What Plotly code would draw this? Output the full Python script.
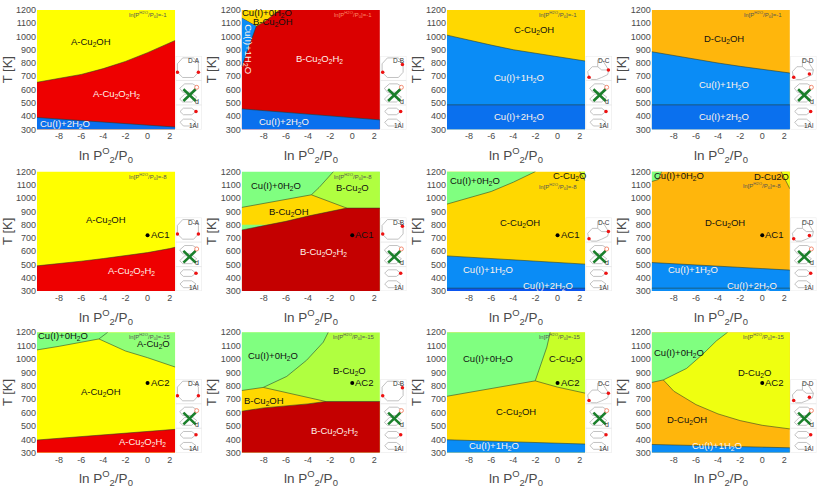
import plotly.graph_objects as go

# ---- axis scale ----
X_MIN, X_MAX = -10, 2.5
T_MIN, T_MAX = 300, 1200
X_TICKS = [-8, -6, -4, -2, 0, 2]
X_TICK_TEXT = ["-8", "-6", "-4", "-2", "0", "2"]
T_TICKS = [300, 400, 500, 600, 700, 800, 900, 1000, 1100, 1200]
X_ENDS = [-10, 2.5]

# ---- colours of the phases ----
YELLOW, RED_A, BLUE2, BLUE1 = "#ffff00", "#ee0000", "#0a70ee", "#0a8cf6"
RED_B1, RED_B, GOLD, ORANGE = "#da0000", "#c40000", "#ffd800", "#ffb60c"
GREEN0, O_A, O_B, O_C, O_D = "#80ff80", "#90ff78", "#b0ff40", "#c8ff28", "#efff10"
BLUE_DEEP = "#0a55f0"

# ---- phase boundaries: ln P(O2) and T[K] ----
a1_hi_x = [-10, -8, -6, -4, -2, 0, 2, 2.5]
a1_hi_t = [655, 685, 714, 758, 812, 878, 950, 970]
a1_lo_t = [390, 318]

b1_low_t = [455, 372]
b1_red_x = [-10, -8.68, -7.9, -6.57]
b1_red_t = [1139, 1077, 1113, 1200]
b1_wedge_x = [-10, -8.68, -10]
b1_wedge_t = [770, 1077, 1139]

c1_hi_x = [-10, -8, -6, -4, -2, 0, 2, 2.5]
c1_hi_t = [1010, 970, 935, 900, 875, 845, 820, 815]
d1_hi_x = [-10, -8, -6, -4, -2, 0, 2, 2.5]
d1_hi_t = [885, 855, 830, 800, 775, 752, 730, 725]
h2o_step_t = [485, 485]

a2_lo_x = [-10, -8, -6, -4, -2, 0, 2, 2.5]
a2_lo_t = [490, 505, 525, 545, 565, 590, 620, 630]

b2_red_x = [-10, -8, -6, -4, -2, -0.5, 2.5]
b2_red_t = [760, 790, 825, 865, 900, 925, 925]
b2_gold_x = [-10, -3.7, -0.5]
b2_gold_t = [930, 1025, 925]
b2_split_x = [-3.7, -3, -1.7]
b2_split_t = [1025, 1080, 1200]

c2_green_x = [-10, -8, -6, -4, -2]
c2_green_t = [955, 1000, 1050, 1120, 1200]
c2_oxide_x = [2, 2.5]
c2_oxide_t = [1200, 1130]
c2_blue_t = [565, 503]
c2_deep_t = [322, 322]

d2_green_x = [-10, -9.4, -9.1]
d2_green_t = [1125, 1140, 1200]
d2_oxide_x = [1.7, 2.5]
d2_oxide_t = [1200, 1070]
d2_blue_t = [515, 458]

a3_green_x = [-10, -8, -4.4]
a3_green_t = [1068, 1095, 1150]
a3_split_x = [-4.4, -3.6]
a3_split_t = [1150, 1200]
a3_oxide_x = [-4.4, -2, 0, 2.5]
a3_oxide_t = [1150, 1060, 1010, 940]
a3_red_t = [395, 475]

b3_red_x = [-10, -8, -4, -2.4, 2.5]
b3_red_t = [610, 635, 665, 683, 683]
b3_gold_x = [-10, -8.05, -2.4]
b3_gold_t = [765, 788, 683]
b3_green_x = [-8.05, -5.93, -4.13, -2.62, -2.17]
b3_green_t = [788, 870, 991, 1126, 1200]

c3_green_x = [-10, -2.02]
c3_green_t = [722, 837]
c3_split_x = [-2.02, -1.57, -0.97, -0.66]
c3_split_t = [837, 943, 1089, 1200]
c3_oxide_x = [-2.02, 0, 2.5]
c3_oxide_t = [837, 790, 745]
c3_blue_t = [397, 365]

d3_green_x = [-10, -8.95, -6.84, -5.33, -4.13, -3.13]
d3_green_t = [825, 844, 930, 1040, 1137, 1200]
d3_oxide_x = [-8.95, -8, -6, -4, -2, 0, 2.5]
d3_oxide_t = [844, 760, 660, 590, 540, 505, 478]
d3_blue_t = [362, 337]

# ---- reference points AC1 / AC2 ----
ac_lnp = [0]
ac1_t = [720]
ac2_t = [820]

# ---- labels ----
A_OH, A_H2, A_O = "A-Cu<sub>2</sub>OH", "A-Cu<sub>2</sub>O<sub>2</sub>H<sub>2</sub>", "A-Cu<sub>2</sub>O"
B_OH, B_H2, B_O = "B-Cu<sub>2</sub>OH", "B-Cu<sub>2</sub>O<sub>2</sub>H<sub>2</sub>", "B-Cu<sub>2</sub>O"
C_OH, C_O = "C-Cu<sub>2</sub>OH", "C-Cu<sub>2</sub>O"
D_OH, D_O = "D-Cu<sub>2</sub>OH", "D-Cu<sub>2</sub>O"
CU0, CU1, CU2 = "Cu(I)+0H<sub>2</sub>O", "Cu(I)+1H<sub>2</sub>O", "Cu(I)+2H<sub>2</sub>O"

a1_names = [A_OH, A_H2, CU2]
a1_nx, a1_nt = [-5.14, -2.84, -7.5], [955, 567, 342]
b1_names = [CU0, B_OH, B_H2, CU2]
b1_nx, b1_nt = [-7.74, -7.14, -3, -6.2], [1175, 1109, 827, 354]
c1_names = [C_OH, CU1, CU2]
c1_nx, c1_nt = [-2.1, -3.5, -3.5], [1048, 690, 390]
d1_names = [D_OH, CU1, CU2]
d1_nx, d1_nt = [-3.46, -3.5, -3.5], [979, 633, 390]
a2_names = [A_OH, A_H2]
a2_nx, a2_nt = [-3.78, -1.45], [832, 452]
b2_names = [CU0, B_O, B_OH, B_H2]
b2_nx, b2_nt = [-6.9, 0.03, -5.75, -2.6], [1094, 1077, 898, 592]
c2_names = [CU0, C_O, C_OH, CU1, CU2]
c2_nx, c2_nt = [-7.5, 1.09, -3.4, -6.25, -0.9], [1126, 1168, 815, 459, 342]
d2_names = [CU0, "D-Cu2O", D_OH, CU1, CU2]
d2_nx, d2_nt = [-7.5, 0.84, -3.37, -6.25, -0.9], [1163, 1163, 815, 459, 342]
a3_names = [CU0, A_O, A_OH, A_H2]
a3_nx, a3_nt = [-7.67, 0.54, -4.23, -0.45], [1170, 1114, 751, 378]
b3_names = [CU0, B_O, B_OH, B_H2]
b3_nx, b3_nt = [-7.14, -0.27, -7.95, -1.63], [1021, 910, 685, 459]
c3_names = [CU0, C_O, C_OH, CU1]
c3_nx, c3_nt = [-6.25, 0.75, -3.75, -5.74], [999, 999, 606, 347]
d3_names = [CU0, D_O, D_OH, CU1]
d3_nx, d3_nt = [-7.5, -0.72, -6.84, -4.13], [1048, 893, 545, 349]

B1_VERTICAL = CU1
PRESSURES = ["-1", "-8", "-15"]
SITES = ["A", "B", "C", "D"]

# ---- inset sketches (local units of each little frame) ----
FRAME_X = [0, 26, 26, 0, 0]
FRAME_Y = [0, 0, 75, 75, 0]
OCT_X = [7, 18, 22.7, 22.7, 18, 7, 1.7, 1.7, 7]
OCT_Y = [2, 2, 8, 16.7, 22, 22, 16.7, 8, 2]
RING_X = [3, 2, 6.5, 12, 12, 16, 23, 22, 16, 11, 6, 3, None, 12, 16, 23]
RING_Y = [21.7, 16, 11, 11, 4, 3, 14.3, 19, 22, 24, 24, 21.7, None, 11, 14.3, 14.3]
DOT_SITES_X = {"A": [1.7, 22.7], "B": [2.3, 22], "C": [3.3, 22.7], "D": [3.3, 19]}
DOT_SITES_Y = {"A": [16.7, 16.7], "B": [16.7, 8.7], "C": [21.7, 14.3], "D": [21.7, 18.3]}
MID_X = [4, 9, 17, 21, 16, 7, 4, None, 4, 9, 17, 21, 16, 7, 4]
MID_Y = [33, 28.5, 28.5, 31, 37, 37, 33, None, 44, 39, 39, 42, 47, 47, 44]
CROSS_X = [7.7, 20, None, 20, 7.7]
CROSS_Y = [34, 46, None, 34, 46]
LOW_X = [4.3, 7.7, 16, 20.3, 16, 7.7, 4.3, None, 4.3, 7.7, 16, 20.3, 16, 7.7, 4.3]
LOW_Y = [56.7, 53.3, 53.3, 56.7, 60, 60, 56.7, None, 67.7, 64.5, 64.5, 67.7, 71.5, 71.5, 67.7]

# ---- page geometry in pixels ----
W, H = 817, 494
COL_LEFT = [37, 241.7, 447, 651.7]
PLOT_W = 138.2
ROW_TOP = [5, 170, 334]
ROW_BOTTOM = [127, 292, 457]
INSET_W, INSET_H = 26, 75
X_TITLE_DROP = 26

fig = go.Figure()
layout = {"annotations": []}
SANS = "Arial, 'Liberation Sans', sans-serif"
TICK_COL = "#4a4a4a"
X_TITLE = "ln P<sup>O</sup><sub>2</sub>/P<sub>0</sub>"


def axis_name(i):
    return ("", "") if i == 1 else (str(i), str(i))


def fill(ax, xs, ts, color):
    fig.add_trace(go.Scatter(x=xs, y=ts, xaxis="x" + ax, yaxis="y" + ax, mode="lines",
                             fill="toself", fillcolor=color, line=dict(width=0),
                             hoverinfo="skip", showlegend=False))


def edge(ax, xs, ts):
    fig.add_trace(go.Scatter(x=xs, y=ts, xaxis="x" + ax, yaxis="y" + ax, mode="lines",
                             line=dict(width=0.8, color="rgba(40,60,40,0.7)"),
                             hoverinfo="skip", showlegend=False))


def base(ax, color):
    fill(ax, [X_MIN, X_MAX, X_MAX, X_MIN], [T_MIN, T_MIN, T_MAX, T_MAX], color)


def below(ax, xs, ts, color):
    fill(ax, xs + [xs[-1], xs[0]], ts + [T_MIN, T_MIN], color)
    edge(ax, xs, ts)


def above(ax, xs, ts, color):
    fill(ax, xs + [xs[-1], xs[0]], ts + [T_MAX, T_MAX], color)
    edge(ax, xs, ts)


def note(ax, text, x, y, size=9.5, color="black", angle=0):
    layout["annotations"].append(dict(
        text=text, x=x, y=y, xref="x" + ax, yref="y" + ax, showarrow=False,
        textangle=angle, font=dict(family=SANS, size=size, color=color),
        xanchor="center", yanchor="middle"))


def label_colour(name):
    if name in (CU1, CU2) or "O<sub>2</sub>H" in name:
        return "#fff2ea"
    return "#111111"


def names(ax, texts, xs, ts):
    for t, x, y in zip(texts, xs, ts):
        note(ax, t, x, y, color=label_colour(t))


def mark(ax, t_list, text):
    fig.add_trace(go.Scatter(x=ac_lnp, y=t_list, xaxis="x" + ax, yaxis="y" + ax, mode="markers",
                             marker=dict(size=4, color="black"), hoverinfo="skip", showlegend=False))
    note(ax, text, 1.09, t_list[0] + 5, color="#111111")


def pressure(ax, value, x=0.03, t=1165, color="#555555"):
    note(ax, "ln[P<sup>H2O</sup>/P<sub>0</sub>]=" + value, x, t, size=6, color=color)


def inset(ax, site):
    ix, iy = "x" + ax, "y" + ax

    def line(xs, ys, width=0.7, color="#a8a8a8"):
        fig.add_trace(go.Scatter(x=xs, y=ys, xaxis=ix, yaxis=iy, mode="lines",
                                 line=dict(width=width, color=color), hoverinfo="skip", showlegend=False))

    # white backing and frame
    fig.add_trace(go.Scatter(x=FRAME_X, y=FRAME_Y, xaxis=ix, yaxis=iy, mode="lines", fill="toself",
                             fillcolor="white", line=dict(width=0.6, color="#d8d8d8"),
                             hoverinfo="skip", showlegend=False))
    line([0, 26], [25, 25], 0.6, "#d8d8d8")
    line([0, 26], [50, 50], 0.6, "#d8d8d8")
    if site in ("A", "B"):
        line(OCT_X, OCT_Y)
    else:
        line(RING_X, RING_Y)
    fig.add_trace(go.Scatter(x=DOT_SITES_X[site], y=DOT_SITES_Y[site], xaxis=ix, yaxis=iy, mode="markers",
                             marker=dict(size=3.5, color="#ee1111"), hoverinfo="skip", showlegend=False))
    line(MID_X, MID_Y)
    line(CROSS_X, CROSS_Y, 2.6, "#1a7f2a")
    fig.add_trace(go.Scatter(x=[21], y=[32], xaxis=ix, yaxis=iy, mode="markers",
                             marker=dict(size=4, color="white", line=dict(width=0.7, color="#f0603c")),
                             hoverinfo="skip", showlegend=False))
    line(LOW_X, LOW_Y)
    fig.add_trace(go.Scatter(x=[20.3], y=[56.7], xaxis=ix, yaxis=iy, mode="markers",
                             marker=dict(size=3.5, color="#ee1111"), hoverinfo="skip", showlegend=False))
    note(ax, "D-" + site, 18, 4.5, size=6.5, color="#333333")
    note(ax, "d", 21.7, 46, size=7, color="#333333")
    note(ax, "1Al", 18.7, 71, size=6.5, color="#333333")


# ---- axes ----
for r in range(3):
    for c in range(4):
        i = r * 4 + c + 1
        sx, sy = axis_name(i)
        l, t, b = COL_LEFT[c], ROW_TOP[r], ROW_BOTTOM[r]
        layout["xaxis" + sx] = dict(
            domain=[l / W, (l + PLOT_W) / W], range=[X_MIN, X_MAX], anchor="y" + sy,
            tickvals=X_TICKS, ticktext=X_TICK_TEXT, showgrid=False, zeroline=False, showline=False, ticks="",
            tickfont=dict(family=SANS, size=9, color=TICK_COL))
        layout["yaxis" + sy] = dict(
            domain=[1 - b / H, 1 - t / H], range=[T_MIN, T_MAX], anchor="x" + sx,
            tickvals=T_TICKS, showgrid=False, zeroline=False, showline=False, ticks="",
            tickfont=dict(family=SANS, size=9, color=TICK_COL),
            title=dict(text="T [K]", font=dict(family=SANS, size=13, color=TICK_COL), standoff=1))
        layout["annotations"].append(dict(
            text=X_TITLE, x=(l + PLOT_W / 2) / W, y=1 - (b + X_TITLE_DROP) / H, xref="paper", yref="paper",
            showarrow=False, xanchor="center", yanchor="middle",
            font=dict(family=SANS, size=13.5, color=TICK_COL)))
        k = i + 12
        l2 = l + PLOT_W + 0.5
        for name, dom, rng, anc in (("xaxis", [l2 / W, (l2 + INSET_W) / W], [0, 26], "y"),
                                    ("yaxis", [1 - b / H, 1 - (b - INSET_H) / H], [75, 0], "x")):
            layout[name + str(k)] = dict(domain=dom, range=rng, anchor=anc + str(k), visible=False, fixedrange=True)

# ---- row 1 ----
base("", YELLOW)
below("", a1_hi_x, a1_hi_t, RED_A)
below("", X_ENDS, a1_lo_t, BLUE2)
names("", a1_names, a1_nx, a1_nt)
pressure("", PRESSURES[0])

base("2", RED_B1)
fill("2", b1_red_x + [-10], b1_red_t + [1200], GOLD)
edge("2", b1_red_x, b1_red_t)
fill("2", b1_wedge_x, b1_wedge_t, BLUE1)
edge("2", b1_wedge_x[:2], b1_wedge_t[:2])
below("2", X_ENDS, b1_low_t, BLUE2)
names("2", b1_names, b1_nx, b1_nt)
note("2", B1_VERTICAL, -9.45, 906, color="#fff2ea", angle=90)
pressure("2", PRESSURES[0], color="#ff8a66")

base("3", GOLD)
below("3", c1_hi_x, c1_hi_t, BLUE1)
below("3", X_ENDS, h2o_step_t, BLUE2)
names("3", c1_names, c1_nx, c1_nt)
pressure("3", PRESSURES[0])

base("4", ORANGE)
below("4", d1_hi_x, d1_hi_t, BLUE1)
below("4", X_ENDS, h2o_step_t, BLUE2)
names("4", d1_names, d1_nx, d1_nt)
pressure("4", PRESSURES[0])

# ---- row 2 ----
base("5", YELLOW)
below("5", a2_lo_x, a2_lo_t, RED_A)
names("5", a2_names, a2_nx, a2_nt)
mark("5", ac1_t, "AC1")
pressure("5", PRESSURES[1])

base("6", GREEN0)
fill("6", b2_split_x + [2.5, 2.5, -0.5], b2_split_t + [1200, 925, 925], O_B)
edge("6", b2_split_x, b2_split_t)
fill("6", b2_gold_x + [-0.5, -10], b2_gold_t + [800, 800], GOLD)
edge("6", b2_gold_x, b2_gold_t)
below("6", b2_red_x, b2_red_t, RED_B)
names("6", b2_names, b2_nx, b2_nt)
mark("6", ac1_t, "AC1")
pressure("6", PRESSURES[1])

base("7", GOLD)
above("7", c2_green_x, c2_green_t, GREEN0)
above("7", c2_oxide_x, c2_oxide_t, O_C)
below("7", X_ENDS, c2_blue_t, BLUE1)
below("7", X_ENDS, c2_deep_t, BLUE_DEEP)
names("7", c2_names, c2_nx, c2_nt)
mark("7", ac1_t, "AC1")
pressure("7", PRESSURES[1], t=1090)

base("8", ORANGE)
above("8", d2_green_x, d2_green_t, GREEN0)
above("8", d2_oxide_x, d2_oxide_t, O_D)
below("8", X_ENDS, d2_blue_t, BLUE1)
below("8", X_ENDS, c2_deep_t, BLUE1)
names("8", d2_names, d2_nx, d2_nt)
mark("8", ac1_t, "AC1")
pressure("8", PRESSURES[1], x=0.0, t=1094)

# ---- row 3 ----
base("9", YELLOW)
fill("9", a3_oxide_x + [2.5, -4.4], a3_oxide_t + [1200, 1200], O_A)
edge("9", a3_oxide_x, a3_oxide_t)
fill("9", a3_green_x + [-3.6, -10], a3_green_t + [1200, 1200], GREEN0)
edge("9", a3_green_x, a3_green_t)
edge("9", a3_split_x, a3_split_t)
below("9", X_ENDS, a3_red_t, RED_A)
names("9", a3_names, a3_nx, a3_nt)
mark("9", ac2_t, "AC2")
pressure("9", PRESSURES[2], x=0.15, t=1168)

base("10", O_B)
fill("10", b3_green_x + [-10, -10], b3_green_t + [1200, 765], GREEN0)
edge("10", b3_green_x, b3_green_t)
fill("10", b3_gold_x + [-10], b3_gold_t + [600], GOLD)
edge("10", b3_gold_x, b3_gold_t)
below("10", b3_red_x, b3_red_t, RED_B)
names("10", b3_names, b3_nx, b3_nt)
mark("10", ac2_t, "AC2")
pressure("10", PRESSURES[2], x=0.15, t=1168)

base("11", GOLD)
above("11", c3_oxide_x, c3_oxide_t, O_C)
fill("11", c3_green_x + c3_split_x[1:] + [-10], c3_green_t + c3_split_t[1:] + [1200], GREEN0)
edge("11", c3_green_x, c3_green_t)
edge("11", c3_split_x, c3_split_t)
below("11", X_ENDS, c3_blue_t, BLUE1)
names("11", c3_names, c3_nx, c3_nt)
mark("11", ac2_t, "AC2")
pressure("11", PRESSURES[2], x=0.15, t=1168)

base("12", ORANGE)
above("12", d3_oxide_x, d3_oxide_t, O_D)
above("12", d3_green_x, d3_green_t, GREEN0)
below("12", X_ENDS, d3_blue_t, BLUE1)
names("12", d3_names, d3_nx, d3_nt)
mark("12", ac2_t, "AC2")
pressure("12", PRESSURES[2], x=0.15, t=1168)

# ---- insets ----
for r in range(3):
    for c in range(4):
        inset(str(r * 4 + c + 13), SITES[c])

fig.update_layout(width=W, height=H, margin=dict(l=0, r=0, t=0, b=0), autosize=False,
                  paper_bgcolor="white", plot_bgcolor="white", showlegend=False,
                  font=dict(family=SANS), **layout)
fig.write_html("out.html", config={"displayModeBar": False, "responsive": False},
               post_script="document.body.style.margin='0';")
